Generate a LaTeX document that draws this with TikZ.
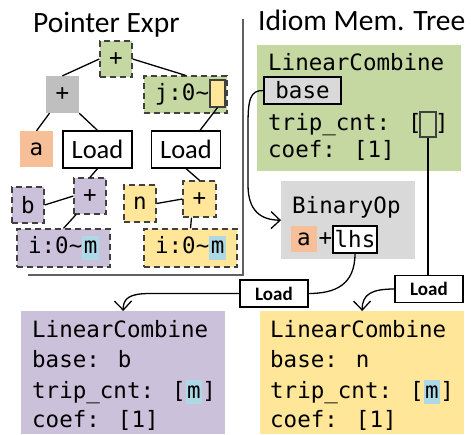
\documentclass[tikz,border=0pt]{standalone}
\usepackage{fontspec}
\setmainfont{Carlito}
\newfontfamily\monof{DejaVu Sans Mono}
\usetikzlibrary{arrows.meta,calc}
\definecolor{cgreen}{HTML}{C5D8A2}
\definecolor{cpurple}{HTML}{CCC1DA}
\definecolor{cyellow}{HTML}{FFE699}
\definecolor{corange}{HTML}{F6BF97}
\definecolor{cgrey}{HTML}{BFBFBF}
\definecolor{clgrey}{HTML}{D9D9D9}
\definecolor{ccyan}{HTML}{ADD8E6}
\definecolor{cdash}{HTML}{404040}
\definecolor{cframe}{HTML}{606060}
\newcommand\hlm[1]{{\setlength{\fboxsep}{1.5pt}\colorbox{ccyan}{\vphantom{Ag}#1}}}
\begin{document}
\begin{tikzpicture}[x=1pt,y=-1pt,
  mono/.style={font=\monof\fontsize{22.5pt}{27pt}\selectfont},
  titlef/.style={font=\fontsize{29.5pt}{32pt}\selectfont, inner sep=0, anchor=base west},
  dbox/.style={draw=cdash, dash pattern=on 6pt off 4pt, line width=1.3pt},
  tnode/.style={mono, inner sep=0},
  loadnode/.style={draw, fill=white, line width=1.2pt, inner sep=0, minimum width=69, minimum height=37, font=\fontsize{26.5pt}{28pt}\selectfont},
  lload/.style={draw, fill=white, line width=1.2pt, inner sep=0, minimum width=68, minimum height=27, font=\bfseries\fontsize{19pt}{21pt}\selectfont},
  line/.style={mono, anchor=base west, inner sep=0},
  edge/.style={line width=1.3pt},
  conn/.style={line width=1.3pt, -{Straight Barb[length=9pt,width=17pt,line width=1.3pt]}}
]
\useasboundingbox (0,0) rectangle (471,434);

% titles
\node[titlef] (t1) at (33,32) {Pointer Expr};
\node[titlef] (t2) at (258,30) {Idiom Mem. Tree};
\draw[line width=1.5pt, cframe] (243,19) -- (243,275) -- (28,275);

% pointer expression tree
\node[tnode, fill=cgreen, dbox, minimum width=32, minimum height=36] (top) at (116,59) {+};
\node[tnode, fill=cgrey, minimum width=33, minimum height=37] (gplus) at (62.5,94.5) {+};
\node[tnode, fill=cgreen, dbox, minimum width=83, minimum height=37] (j) at (185.5,94.5) {};
\node[tnode] (jtext) at (182,94.5) {j:0\textasciitilde};
\node[fill=cyellow, draw=cdash, line width=1.2pt, inner sep=0, minimum width=15, minimum height=27] (jbox) at (217.5,93.5) {};
\node[tnode, fill=corange, minimum width=33, minimum height=36] (a) at (36.5,149) {a};
\node[loadnode] (load1) at (97.5,149.5) {Load};
\node[loadnode] (load2) at (186,149.5) {Load};
\node[tnode, fill=cpurple, dbox, minimum width=32, minimum height=36] (b) at (28,205) {b};
\node[tnode, fill=cpurple, dbox, minimum width=32, minimum height=36] (pplus) at (90,196) {+};
\node[tnode, fill=cpurple, dbox, minimum width=93, minimum height=38] (i1) at (63.5,248) {i:0\textasciitilde\hlm{m}};
\node[tnode, fill=cyellow, dbox, minimum width=32, minimum height=37] (n) at (140,203.5) {n};
\node[tnode, fill=cyellow, dbox, minimum width=33, minimum height=36] (yplus) at (199.5,199) {+};
\node[tnode, fill=cyellow, dbox, minimum width=93, minimum height=38] (i2) at (190.5,248) {i:0\textasciitilde\hlm{m}};

\draw[edge] (top.west) -- (gplus.north);
\draw[edge] (top.east) -- (j.north);
\draw[edge] ([xshift=-13pt]gplus.south) -- (a.north);
\draw[edge] (gplus.south east) -- (load1.north);
\draw[edge] (jbox.south) -- ([xshift=14pt]load2.north);
\draw[edge] (load1.south) -- (pplus.north);
\draw[edge] (b.east) -- (pplus.west);
\draw[edge] ([xshift=-14pt]pplus.south) -- (i1.north);
\draw[edge] (load2.south) -- (yplus.north);
\draw[edge] (n.east) -- (yplus.west);
\draw[edge] ([xshift=-8pt]yplus.south) -- (i2.north);

% idiom memory tree
\node[fill=cgreen, anchor=north west, inner sep=0, minimum width=204, minimum height=126] (gbox) at (257,45) {};
\node[line] (g1) at (268,70) {LinearCombine};
\node[draw, fill=clgrey, line width=1.2pt, mono, inner sep=0, minimum width=77, minimum height=27] (base) at (302.5,90.5) {base};
\node[fill=cgreen, draw=cdash, line width=1.2pt, inner sep=0, minimum width=16, minimum height=25] (trip) at (428,124.5) {};
\node[line] (g3) at (268,130) {trip\_cnt: [\hphantom{m}]};
\node[line] (g4) at (268,157) {coef: [1]};

\node[fill=clgrey, anchor=north west, inner sep=0, minimum width=134, minimum height=78] (binop) at (281,181) {};
\node[line] (btext) at (292,213) {BinaryOp};
\node[tnode, fill=corange, minimum width=26, minimum height=26] (ba) at (304,239) {a};
\node[tnode] (bplus) at (325.5,239) {+};
\node[tnode, draw, fill=white, line width=1.2pt, minimum width=44, minimum height=27] (lhs) at (355,239.5) {lhs};

\node[lload] (L1) at (274,293.5) {Load};
\node[lload] (L2) at (429,289) {Load};

\node[fill=cpurple, anchor=north west, inner sep=0, minimum width=204, minimum height=123] (pbox) at (21,311) {};
\node[line] (p1) at (32,337) {LinearCombine};
\node[line] (p2) at (32,367) {base: b};
\node[line] (p3) at (32,398) {trip\_cnt: [\hlm{m}]};
\node[line] (p4) at (32,427) {coef: [1]};

\node[fill=cyellow, anchor=north west, inner sep=0, minimum width=204, minimum height=123] (ybox) at (260,311) {};
\node[line] (y1) at (270,337) {LinearCombine};
\node[line] (y2) at (270,367) {base: n};
\node[line] (y3) at (270,398) {trip\_cnt: [\hlm{m}]};
\node[line] (y4) at (270,427) {coef: [1]};

% connectors
\draw[conn] (base.west) .. controls (250,90) and (248,100) .. (248,125) -- (248,185) .. controls (248,212) and (262,220) .. (binop.west);
\draw[edge] (lhs.south) .. controls (355,285) and (335,293.5) .. (L1.east);
\draw[conn] (L1.west) -- (150,293.5) .. controls (130,293.5) and (123,298) .. (pbox.north);
\draw[edge] (trip.south) -- (trip.south |- L2.north);
\draw[conn] (L2.west) .. controls (372,289) and (362,294) .. (ybox.north);
\end{tikzpicture}
\end{document}
